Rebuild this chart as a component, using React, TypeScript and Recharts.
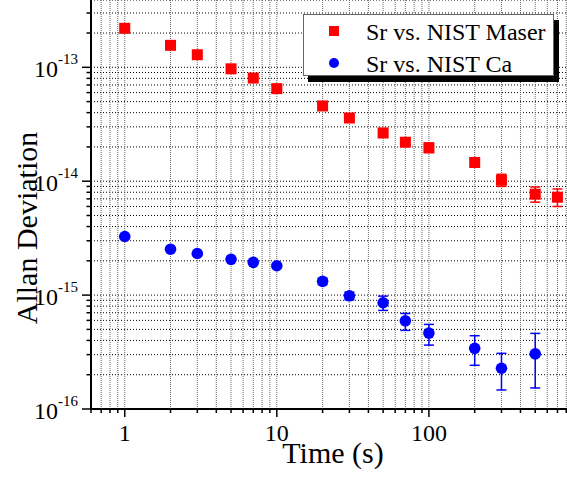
import React from 'react';
import { ScatterChart, Scatter, XAxis, YAxis, CartesianGrid, ErrorBar, Legend, Label } from 'recharts';

const FONT = '"Liberation Serif", "Times New Roman", serif';

// Averaging times (s)
const maserTimes = [1, 2, 3, 5, 7, 10, 20, 30, 50, 70, 100, 200, 300, 500, 700];
const maserValues = [2.2e-13, 1.56e-13, 1.29e-13, 9.7e-14, 8.05e-14, 6.5e-14, 4.58e-14, 3.59e-14, 2.65e-14, 2.2e-14, 1.96e-14, 1.46e-14, 1.02e-14, 7.7e-15, 7.24e-15];
const maserUpper = [2.3e-13, 1.63e-13, 1.35e-13, 1.01e-13, 8.4e-14, 6.8e-14, 4.8e-14, 3.76e-14, 2.9e-14, 2.35e-14, 2.17e-14, 1.61e-14, 1.15e-14, 8.9e-15, 8.55e-15];
const maserLower = [2.1e-13, 1.49e-13, 1.23e-13, 9.3e-14, 7.7e-14, 6.2e-14, 4.36e-14, 3.42e-14, 2.44e-14, 2.07e-14, 1.79e-14, 1.34e-14, 9.0e-15, 6.55e-15, 6.0e-15];

const caTimes = [1, 2, 3, 5, 7, 10, 20, 30, 50, 70, 100, 200, 300, 500];
const caValues = [3.27e-15, 2.53e-15, 2.32e-15, 2.06e-15, 1.94e-15, 1.81e-15, 1.32e-15, 9.86e-16, 8.57e-16, 5.95e-16, 4.64e-16, 3.41e-16, 2.28e-16, 3.05e-16];
const caUpper = [3.35e-15, 2.6e-15, 2.38e-15, 2.12e-15, 2.0e-15, 1.87e-15, 1.4e-15, 1.06e-15, 9.8e-16, 6.9e-16, 5.53e-16, 4.4e-16, 3.08e-16, 4.61e-16];
const caLower = [3.19e-15, 2.46e-15, 2.26e-15, 2.0e-15, 1.88e-15, 1.75e-15, 1.24e-15, 9.1e-16, 7.34e-16, 4.9e-16, 3.64e-16, 2.42e-16, 1.47e-16, 1.53e-16];

const xTicks = [0.6, 0.7, 0.8, 0.9, 1, 2, 3, 4, 5, 6, 7, 8, 9, 10, 20, 30, 40, 50, 60, 70, 80, 90, 100, 200, 300, 400, 500, 600, 700, 800, 900];
const yTicks = [
  1e-16, 2e-16, 3e-16, 4e-16, 5e-16, 6e-16, 7e-16, 8e-16, 9e-16,
  1e-15, 2e-15, 3e-15, 4e-15, 5e-15, 6e-15, 7e-15, 8e-15, 9e-15,
  1e-14, 2e-14, 3e-14, 4e-14, 5e-14, 6e-14, 7e-14, 8e-14, 9e-14,
  1e-13, 2e-13, 3e-13,
];

const seriesNames = ['Sr vs. NIST Maser', 'Sr vs. NIST Ca'];
const xLabel = 'Time (s)';
const yLabel = 'Allan Deviation';

const build = (t: number[], v: number[], up: number[], lo: number[]) =>
  t.map((tt, i) => ({ t: tt, v: v[i], err: [v[i] - lo[i], up[i] - v[i]] }));

const maserData = build(maserTimes, maserValues, maserUpper, maserLower);
const caData = build(caTimes, caValues, caUpper, caLower);

const isDecade = (v: number) => {
  const lg = Math.log10(v);
  return Math.abs(lg - Math.round(lg)) < 1e-6;
};

const YTick = (props: any) => {
  const { x, y, payload } = props;
  const v = payload.value;
  const major = isDecade(v);
  return (
    <g>
      <line x1={x} x2={x - (major ? 9 : 4.5)} y1={y} y2={y} stroke="#000" strokeWidth={1.5} />
      {major && (
        <text x={x - 13} y={y + 10} textAnchor="end" fontSize={24} fill="#000" fontFamily={FONT}>
          <tspan>10</tspan>
          <tspan dy={-13} fontSize={15}>{String(Math.round(Math.log10(v)))}</tspan>
        </text>
      )}
    </g>
  );
};

const XTick = (props: any) => {
  const { x, y, payload } = props;
  const v = payload.value;
  const major = isDecade(v);
  return (
    <g>
      <line x1={x} x2={x} y1={y} y2={y + (major ? 8 : 4)} stroke="#000" strokeWidth={1.5} />
      {major && (
        <text x={x} y={y + 32} textAnchor="middle" fontSize={24} fill="#000" fontFamily={FONT}>
          {String(v)}
        </text>
      )}
    </g>
  );
};

const Square = (props: any) => {
  const { cx, cy, fill } = props;
  if (cx == null || cy == null) return null;
  return <rect x={cx - 5.5} y={cy - 5.5} width={11} height={11} fill={fill} />;
};

const Dot = (props: any) => {
  const { cx, cy, fill } = props;
  if (cx == null || cy == null) return null;
  return <circle cx={cx} cy={cy} r={5.8} fill={fill} />;
};

const renderLegend = (props: any) => {
  const payload = [...(props.payload || [])].sort(
    (a: any, b: any) => seriesNames.indexOf(a.value) - seriesNames.indexOf(b.value)
  );
  return (
    <div
      style={{
        position: 'relative',
        width: 251,
        height: 62,
        boxSizing: 'border-box',
        border: '1.5px solid #666',
        background: '#fff',
        boxShadow: '5px 6px 0 #000',
        fontFamily: FONT,
      }}
    >
      {payload.map((entry: any, i: number) => (
        <div
          key={i}
          style={{
            position: 'absolute',
            left: 0,
            top: 1 + i * 31.5,
            height: 30,
            width: '100%',
            display: 'flex',
            alignItems: 'center',
          }}
        >
          <div style={{ width: 64, display: 'flex', justifyContent: 'center', marginLeft: -2 }}>
            <div
              style={{
                width: 10,
                height: 10,
                background: entry.color,
                borderRadius: entry.type === 'circle' ? '50%' : 0,
              }}
            />
          </div>
          <span style={{ fontSize: 24, color: '#000', lineHeight: '30px', marginTop: 2, whiteSpace: 'nowrap' }}>{entry.value}</span>
        </div>
      ))}
    </div>
  );
};

const renderYLabel = (props: any) => {
  const { viewBox } = props;
  const x = viewBox.x + 37;
  const y = viewBox.y + 228;
  return (
    <text x={x} y={y} transform={`rotate(-90, ${x}, ${y})`} textAnchor="middle" fontSize={30} fill="#000" fontFamily={FONT}>
      {yLabel}
    </text>
  );
};

const renderXLabel = (props: any) => {
  const { viewBox } = props;
  const x = viewBox.x + viewBox.width / 2 - 3;
  const y = viewBox.y + 54;
  return (
    <text x={x} y={y} textAnchor="middle" fontSize={30} fill="#000" fontFamily={FONT}>
      {xLabel}
    </text>
  );
};

export default function App() {
  return (
    <div style={{ position: 'absolute', left: 0, top: 0, width: 567, height: 477, overflow: 'hidden', background: '#fff' }}>
      <ScatterChart width={600} height={477} margin={{ top: 0, right: 19, bottom: 0, left: 0 }} style={{ fontFamily: FONT }}>
        <CartesianGrid horizontal={true} vertical={false} stroke="#000" strokeDasharray="1 2" strokeWidth={1} />
        <CartesianGrid horizontal={false} vertical={true} stroke="#666" strokeDasharray="1 1" strokeWidth={1} />
        <XAxis
          type="number"
          dataKey="t"
          scale="log"
          domain={[0.6, 1000]}
          allowDataOverflow
          ticks={xTicks}
          interval={0}
          tick={<XTick />}
          tickLine={false}
          tickSize={0}
          tickMargin={0}
          height={68}
          axisLine={{ stroke: '#000', strokeWidth: 2 }}
          label={<Label content={renderXLabel} />}
        />
        <YAxis
          type="number"
          dataKey="v"
          scale="log"
          domain={[1e-16, 3.9e-13]}
          allowDataOverflow
          ticks={yTicks}
          interval={0}
          tick={<YTick />}
          tickLine={false}
          tickSize={0}
          tickMargin={0}
          width={91}
          axisLine={{ stroke: '#000', strokeWidth: 2 }}
          label={<Label content={renderYLabel} />}
        />
        <Legend
          layout="vertical"
          align="center"
          verticalAlign="middle"
          content={renderLegend}
          wrapperStyle={{ position: 'absolute', left: 303, top: 14, width: 251, height: 62 }}
        />
        <Scatter name={seriesNames[0]} data={maserData} fill="#ff0000" legendType="square" shape={<Square />} isAnimationActive={false}>
          <ErrorBar dataKey="err" direction="y" width={5} stroke="#ff0000" strokeWidth={1.5} isAnimationActive={false} />
        </Scatter>
        <Scatter name={seriesNames[1]} data={caData} fill="#0000ff" legendType="circle" shape={<Dot />} isAnimationActive={false}>
          <ErrorBar dataKey="err" direction="y" width={5} stroke="#0000ff" strokeWidth={1.5} isAnimationActive={false} />
        </Scatter>
      </ScatterChart>
    </div>
  );
}
